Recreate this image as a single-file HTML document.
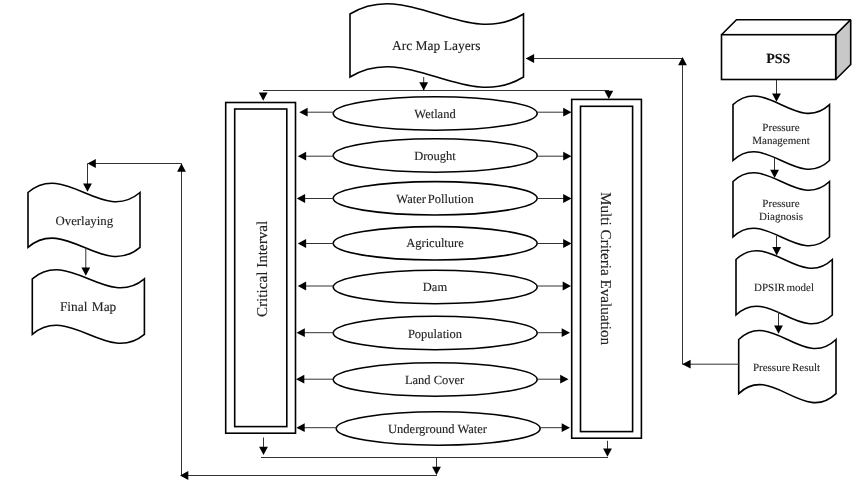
<!DOCTYPE html>
<html><head><meta charset="utf-8"><style>
html,body{margin:0;padding:0;background:#fff;width:867px;height:491px;overflow:hidden}
svg{display:block;will-change:transform}
text{font-family:"Liberation Serif",serif;fill:#222;stroke:#222;stroke-width:0.12px;text-rendering:geometricPrecision}
text.sm{stroke-width:0.1px}
</style></head><body>
<svg width="867" height="491" viewBox="0 0 867 491">
<path d="M350,14 C407.83,-21.68 465.67,49.68 523.5,14 L523.5,77 C465.67,112.68 407.83,41.32 350,77 Z" fill="#fff" stroke="#000" stroke-width="1.6"/>
<text x="436.2" y="50" font-size="13.5" font-weight="normal" text-anchor="middle" >Arc Map Layers</text>
<polyline points="263,90.5 609,90.5" fill="none" stroke="#333" stroke-width="1.0"/>
<polyline points="423.7,77 423.7,90.5" fill="none" stroke="#333" stroke-width="1.0"/>
<polygon points="423.7,90.5 419.3,82.2 428.09999999999997,82.2" fill="#000"/>
<polygon points="263.2,100.8 258.8,92.5 267.59999999999997,92.5" fill="#000"/>
<polygon points="608.8,99 604.4,90.7 613.1999999999999,90.7" fill="#000"/>
<rect x="225.7" y="102.5" width="69.8" height="330.7" fill="#fff" stroke="#000" stroke-width="1.6"/>
<rect x="234.7" y="109" width="52.1" height="317.6" fill="#fff" stroke="#000" stroke-width="1.6"/>
<rect x="571.7" y="99.4" width="69.7" height="338.8" fill="#fff" stroke="#000" stroke-width="1.6"/>
<rect x="580.5" y="106.3" width="52.1" height="325.3" fill="#fff" stroke="#000" stroke-width="1.6"/>
<text x="0" y="0" font-size="15.15" font-weight="normal" text-anchor="middle" transform="translate(266.6,268.9) rotate(-90)">Critical Interval</text>
<text x="0" y="0" font-size="15.15" font-weight="normal" text-anchor="middle" transform="translate(601.2,268.6) rotate(90)">Multi Criteria Evaluation</text>
<ellipse cx="435.2" cy="113.5" rx="102" ry="16.7" fill="#fff" stroke="#000" stroke-width="1.6"/>
<text x="435" y="117.6" font-size="12.5" font-weight="normal" text-anchor="middle" >Wetland</text>
<polyline points="333.7,112.2 305.3,112.2" fill="none" stroke="#333" stroke-width="1.0"/>
<polygon points="299.3,112.2 307.6,107.8 307.6,116.60000000000001" fill="#000"/>
<polyline points="536.7,112.2 565.5,112.2" fill="none" stroke="#333" stroke-width="1.0"/>
<polygon points="571.5,112.2 563.2,107.8 563.2,116.60000000000001" fill="#000"/>
<ellipse cx="435.2" cy="155.5" rx="102" ry="16.7" fill="#fff" stroke="#000" stroke-width="1.6"/>
<text x="435" y="159.6" font-size="12.5" font-weight="normal" text-anchor="middle" >Drought</text>
<polyline points="333.7,156.2 303.8,156.2" fill="none" stroke="#333" stroke-width="1.0"/>
<polygon points="297.8,156.2 306.1,151.79999999999998 306.1,160.6" fill="#000"/>
<polyline points="536.7,156.2 565.5,156.2" fill="none" stroke="#333" stroke-width="1.0"/>
<polygon points="571.5,156.2 563.2,151.79999999999998 563.2,160.6" fill="#000"/>
<ellipse cx="435.2" cy="198.3" rx="102" ry="16.7" fill="#fff" stroke="#000" stroke-width="1.6"/>
<text x="435" y="202.6" font-size="12.5" font-weight="normal" text-anchor="middle" word-spacing="-1.2">Water Pollution</text>
<polyline points="333.7,198.5 302.8,198.5" fill="none" stroke="#333" stroke-width="1.0"/>
<polygon points="296.8,198.5 305.1,194.1 305.1,202.9" fill="#000"/>
<polyline points="536.7,198.5 565.5,198.5" fill="none" stroke="#333" stroke-width="1.0"/>
<polygon points="571.5,198.5 563.2,194.1 563.2,202.9" fill="#000"/>
<ellipse cx="435.2" cy="243.3" rx="102" ry="16.7" fill="#fff" stroke="#000" stroke-width="1.6"/>
<text x="435" y="247.4" font-size="12.5" font-weight="normal" text-anchor="middle" >Agriculture</text>
<polyline points="333.7,243.5 303.8,243.5" fill="none" stroke="#333" stroke-width="1.0"/>
<polygon points="297.8,243.5 306.1,239.1 306.1,247.9" fill="#000"/>
<polyline points="536.7,243.5 565.5,243.5" fill="none" stroke="#333" stroke-width="1.0"/>
<polygon points="571.5,243.5 563.2,239.1 563.2,247.9" fill="#000"/>
<ellipse cx="435.2" cy="287" rx="102" ry="16.7" fill="#fff" stroke="#000" stroke-width="1.6"/>
<text x="435" y="291" font-size="12.5" font-weight="normal" text-anchor="middle" >Dam</text>
<polyline points="333.7,286 303.8,286" fill="none" stroke="#333" stroke-width="1.0"/>
<polygon points="297.8,286 306.1,281.6 306.1,290.4" fill="#000"/>
<polyline points="536.7,286 565,286" fill="none" stroke="#333" stroke-width="1.0"/>
<polygon points="571,286 562.7,281.6 562.7,290.4" fill="#000"/>
<ellipse cx="435.2" cy="333" rx="102" ry="16.7" fill="#fff" stroke="#000" stroke-width="1.6"/>
<text x="435" y="337.6" font-size="12.5" font-weight="normal" text-anchor="middle" >Population</text>
<polyline points="333.7,332.7 302.5,332.7" fill="none" stroke="#333" stroke-width="1.0"/>
<polygon points="296.5,332.7 304.8,328.3 304.8,337.09999999999997" fill="#000"/>
<polyline points="536.7,332.7 564,332.7" fill="none" stroke="#333" stroke-width="1.0"/>
<polygon points="570,332.7 561.7,328.3 561.7,337.09999999999997" fill="#000"/>
<ellipse cx="435.2" cy="379.5" rx="102" ry="16.7" fill="#fff" stroke="#000" stroke-width="1.6"/>
<text x="434.6" y="384" font-size="12.5" font-weight="normal" text-anchor="middle" >Land Cover</text>
<polyline points="333.7,379.2 302,379.2" fill="none" stroke="#333" stroke-width="1.0"/>
<polygon points="296,379.2 304.3,374.8 304.3,383.59999999999997" fill="#000"/>
<polyline points="536.7,379.2 562.5,379.2" fill="none" stroke="#333" stroke-width="1.0"/>
<polygon points="568.5,379.2 560.2,374.8 560.2,383.59999999999997" fill="#000"/>
<ellipse cx="438.2" cy="428.5" rx="102" ry="16.7" fill="#fff" stroke="#000" stroke-width="1.6"/>
<text x="437.5" y="433" font-size="12.5" font-weight="normal" text-anchor="middle" >Underground Water</text>
<polyline points="336.7,427.7 302.4,427.7" fill="none" stroke="#333" stroke-width="1.0"/>
<polygon points="296.4,427.7 304.7,423.3 304.7,432.09999999999997" fill="#000"/>
<polyline points="539.7,427.7 564,427.7" fill="none" stroke="#333" stroke-width="1.0"/>
<polygon points="570,427.7 561.7,423.3 561.7,432.09999999999997" fill="#000"/>
<polyline points="263.5,437.5 263.5,450" fill="none" stroke="#333" stroke-width="1.0"/>
<polygon points="263.5,455 259.1,446.7 267.9,446.7" fill="#000"/>
<polyline points="261,457.5 608,457.5" fill="none" stroke="#333" stroke-width="1.0"/>
<polyline points="607.5,440.8 607.5,450" fill="none" stroke="#333" stroke-width="1.0"/>
<polygon points="607.5,456.8 603.1,448.5 611.9,448.5" fill="#000"/>
<polyline points="436.5,457 436.5,468" fill="none" stroke="#333" stroke-width="1.0"/>
<polygon points="436.5,475 432.1,466.7 440.9,466.7" fill="#000"/>
<polyline points="437,475.5 181.5,475.5 181.5,163.5 87.5,163.5 87.5,185" fill="none" stroke="#333" stroke-width="1.0"/>
<polygon points="180,475.5 188.3,471.1 188.3,479.9" fill="#000"/>
<polygon points="181.5,163.5 177.1,171.8 185.9,171.8" fill="#000"/>
<polygon points="87.5,163.5 95.8,159.1 95.8,167.9" fill="#000"/>
<path d="M28,192.5 C65.33,160.63 102.67,224.37 140,192.5 L140,247.3 C102.67,279.17 65.33,215.43 28,247.3 Z" fill="#fff" stroke="#000" stroke-width="1.6"/>
<text x="84.3" y="225" font-size="12.8" font-weight="normal" text-anchor="middle" >Overlaying</text>
<path d="M32.3,278.8 C69.67,247.62 107.03,309.98 144.4,278.8 L144.4,334.3 C107.03,365.48 69.67,303.12 32.3,334.3 Z" fill="#fff" stroke="#000" stroke-width="1.6"/>
<text x="88.1" y="310.8" font-size="13.4" font-weight="normal" text-anchor="middle" word-spacing="1">Final Map</text>
<polyline points="85.8,248 85.8,270" fill="none" stroke="#333" stroke-width="1.0"/>
<polygon points="85.8,275.8 81.39999999999999,267.5 90.2,267.5" fill="#000"/>
<polygon points="87.5,191.8 83.1,183.5 91.9,183.5" fill="#000"/>
<path d="M721.5,34.7 L736.5,19.700000000000003 L850.7,19.700000000000003 L835.7,34.7 Z" fill="#fff" stroke="#000" stroke-width="1.6" stroke-miterlimit="2"/>
<path d="M835.7,34.7 L850.7,19.700000000000003 L850.7,64.5 L835.7,79.5 Z" fill="#c8c8c8" stroke="#000" stroke-width="1.6" stroke-miterlimit="2"/>
<rect x="721.5" y="34.7" width="114.2" height="44.8" fill="#fff" stroke="#000" stroke-width="1.6"/>
<text x="778.3" y="62.5" font-size="14" font-weight="bold" text-anchor="middle" style="fill:#111;stroke:#111">PSS</text>
<path d="M733,104.7 C765.17,74.56 797.33,134.84 829.5,104.7 L829.5,160.5 C797.33,190.64 765.17,130.36 733,160.5 Z" fill="#fff" stroke="#000" stroke-width="1.6"/>
<text x="781" y="130.5" font-size="11" font-weight="normal" text-anchor="middle" class="sm" >Pressure</text>
<text x="781" y="143.5" font-size="11" font-weight="normal" text-anchor="middle" class="sm" >Management</text>
<path d="M733,181.5 C765.17,151.36 797.33,211.64 829.5,181.5 L829.5,237 C797.33,267.14 765.17,206.86 733,237 Z" fill="#fff" stroke="#000" stroke-width="1.6"/>
<text x="781" y="206.6" font-size="11" font-weight="normal" text-anchor="middle" class="sm" >Pressure</text>
<text x="781" y="219.6" font-size="11" font-weight="normal" text-anchor="middle" class="sm" >Diagnosis</text>
<path d="M736,259.5 C768.10,229.02 800.20,289.98 832.3,259.5 L832.3,315 C800.20,345.48 768.10,284.52 736,315 Z" fill="#fff" stroke="#000" stroke-width="1.6"/>
<text x="784" y="290.7" font-size="11" font-weight="normal" text-anchor="middle" class="sm" word-spacing="-1.5">DPSIR model</text>
<path d="M738.7,339.5 C771.13,308.32 803.57,370.68 836,339.5 L836,393.6 C803.57,424.78 771.13,362.42 738.7,393.6 Z" fill="#fff" stroke="#000" stroke-width="1.6"/>
<text x="786.5" y="370.8" font-size="11" font-weight="normal" text-anchor="middle" class="sm" word-spacing="-1">Pressure Result</text>
<polyline points="776.5,80 776.5,95" fill="none" stroke="#333" stroke-width="1.0"/>
<polygon points="776.5,101.8 772.1,93.5 780.9,93.5" fill="#000"/>
<polyline points="774.5,158 774.5,172" fill="none" stroke="#333" stroke-width="1.0"/>
<polygon points="774.6,178 770.2,169.7 779.0,169.7" fill="#000"/>
<polyline points="776.5,236 776.5,249" fill="none" stroke="#333" stroke-width="1.0"/>
<polygon points="776.7,255.4 772.3000000000001,247.1 781.1,247.1" fill="#000"/>
<polyline points="778.5,312 778.5,328" fill="none" stroke="#333" stroke-width="1.0"/>
<polygon points="778.5,333.8 774.1,325.5 782.9,325.5" fill="#000"/>
<polyline points="739,364.2 682.5,364.2 682.5,58.5 526,58.5" fill="none" stroke="#333" stroke-width="1.0"/>
<polygon points="682.3,364.2 690.5999999999999,359.8 690.5999999999999,368.59999999999997" fill="#000"/>
<polygon points="682.5,57 678.1,65.3 686.9,65.3" fill="#000"/>
<polygon points="525.8,58.5 534.0999999999999,54.1 534.0999999999999,62.9" fill="#000"/>
</svg>
</body></html>
